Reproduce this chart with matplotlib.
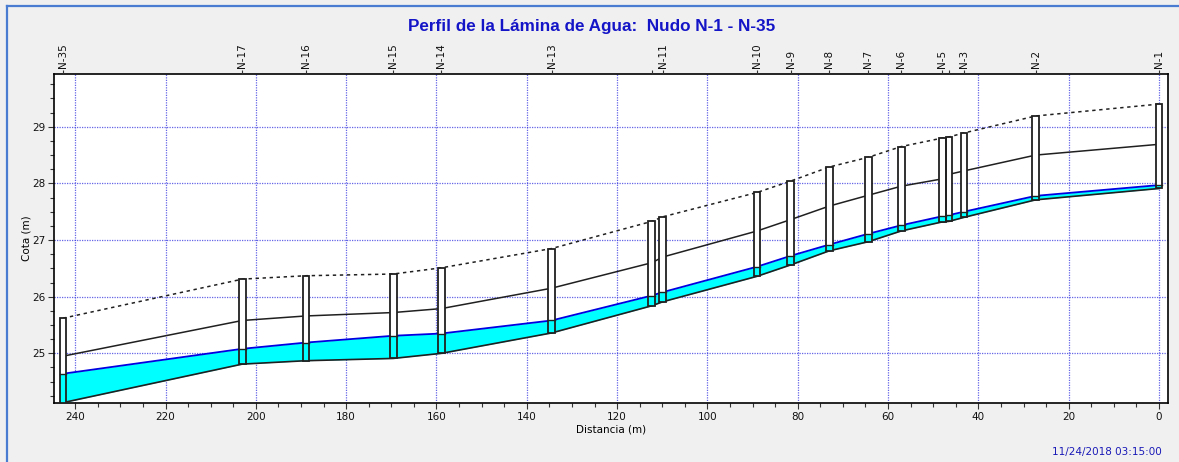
import matplotlib
matplotlib.use("Agg")
import matplotlib.pyplot as plt
from matplotlib.patches import Rectangle
from matplotlib.lines import Line2D
from matplotlib.ticker import MultipleLocator

# ---------------- data ----------------
nodes = ["N-35", "N-17", "N-16", "N-15", "N-14", "N-13", "N-12", "N-11", "N-10",
         "N-9", "N-8", "N-7", "N-6", "N-5", "N-4", "N-3", "N-2", "N-1"]
node_labels = ["N-35", "N-17", "N-16", "N-15", "N-14", "N-13", "", "N-11", "N-10",
               "N-9", "N-8", "N-7", "N-6", "N-5", "", "N-3", "N-2", "N-1"]
distance = [242.7, 203.0, 188.9, 169.6, 158.9, 134.5, 112.3, 109.9, 89.0,
            81.6, 73.0, 64.4, 57.1, 48.0, 46.5, 43.2, 27.3, 0.0]
invert = [24.13, 24.81, 24.87, 24.91, 25.00, 25.36, 25.84, 25.91, 26.36,
          26.56, 26.81, 26.97, 27.16, 27.32, 27.33, 27.40, 27.71, 27.91]
rim = [25.62, 26.31, 26.37, 26.40, 26.51, 26.85, 27.33, 27.41, 27.84,
       28.04, 28.29, 28.46, 28.65, 28.80, 28.82, 28.89, 29.19, 29.40]
water = [24.64, 25.08, 25.19, 25.31, 25.35, 25.58, 26.02, 26.08, 26.53,
         26.72, 26.92, 27.11, 27.26, 27.42, 27.44, 27.50, 27.78, 27.97]
crown = [24.95, 25.58, 25.66, 25.72, 25.79, 26.15, 26.60, 26.70, 27.16,
         27.36, 27.60, 27.79, 27.95, 28.08, 28.16, 28.22, 28.50, 28.69]

title = "Perfil de la Lámina de Agua:  Nudo N-1 - N-35"
xlabel = "Distancia (m)"
ylabel = "Cota (m)"
timestamp = "11/24/2018 03:15:00"

# ---------------- figure ----------------
W, H = 1179, 462
fig = plt.figure(figsize=(W / 100, H / 100), dpi=100)
fig.patch.set_facecolor("#f0f0f0")

# window frame (blue border)
fig.add_artist(Line2D([7 / W, 7 / W], [0, 1 - 6 / H], color="#4a7dd2", lw=1.6))
fig.add_artist(Line2D([7 / W, 1], [1 - 6 / H, 1 - 6 / H], color="#4a7dd2", lw=1.6))

ax = fig.add_axes([54 / W, 1 - 403.3 / H, (1167.7 - 54) / W, (403.3 - 73.5) / H])
ax.set_facecolor("white")
ax.set_xlim(244.7, -1.93)
ax.set_ylim(24.118, 29.94)

grid_c = "#3030e0"
ax.xaxis.set_major_locator(MultipleLocator(20))
ax.xaxis.set_minor_locator(MultipleLocator(5))
ax.yaxis.set_major_locator(MultipleLocator(1))
ax.yaxis.set_minor_locator(MultipleLocator(0.25))
ax.grid(True, which="major", color=grid_c, lw=0.9, linestyle=(0, (1, 1)), alpha=0.75)
ax.set_axisbelow(True)

ax.tick_params(axis="both", which="major", length=4, width=0.8, color="#333333",
               labelsize=7.5, pad=2, labelcolor="#111111")
ax.tick_params(axis="both", which="minor", length=3, width=0.8, color="#333333")
for lbl in ax.get_xticklabels() + ax.get_yticklabels():
    lbl.set_fontfamily("DejaVu Sans")

for s in ax.spines.values():
    s.set_color("black")
    s.set_linewidth(1.2)

# fill between invert and water
ax.fill_between(distance, invert, water, color="#00ffff", lw=0, zorder=2)
ax.plot(distance, invert, color="#202020", lw=1.2, zorder=3)
ax.plot(distance, water, color="#0000e0", lw=1.3, zorder=3)
ax.plot(distance, crown, color="#202020", lw=1.1, zorder=3)
ax.plot(distance, rim, color="#202020", lw=1.1, linestyle=(0, (2.2, 2.4)), zorder=3)

# node boxes
bw = 1.5
for d, inv, r, wl in zip(distance, invert, rim, water):
    ax.add_patch(Rectangle((d - bw / 2, wl), bw, r - wl, facecolor="white",
                           edgecolor="none", zorder=4))
    ax.add_patch(Rectangle((d - bw / 2, inv), bw, wl - inv, facecolor="#00ffff",
                           edgecolor="none", zorder=4))
    ax.plot([d - bw / 2, d + bw / 2], [wl, wl], color="#202020", lw=1.0, zorder=5)
    ax.add_patch(Rectangle((d - bw / 2, inv), bw, r - inv, facecolor="none",
                           edgecolor="#202020", lw=1.3, zorder=5))

# top node labels
axt = ax.twiny()
axt.set_xlim(ax.get_xlim())
axt.set_xticks(distance)
axt.set_xticklabels(node_labels, rotation=90, fontsize=7.5, family="DejaVu Sans",
                    color="#111111")
axt.tick_params(axis="x", length=3, width=0.8, color="#333333", pad=1)
for s in axt.spines.values():
    s.set_visible(False)

ax.set_xlabel(xlabel, fontsize=7.5, family="DejaVu Sans", labelpad=2)
ax.set_ylabel(ylabel, fontsize=7.5, family="DejaVu Sans", labelpad=0.5)

fig.text(592 / W, 1 - 27 / H, title, ha="center", va="center", fontsize=12.3,
         fontweight="bold", family="Liberation Sans", color="#1515c8")
fig.text(1162 / W, 1 - 452 / H, timestamp, ha="right", va="center", fontsize=7.5,
         family="DejaVu Sans", color="#1a1ab8")

fig.savefig("out.png", dpi=100, facecolor=fig.get_facecolor())
